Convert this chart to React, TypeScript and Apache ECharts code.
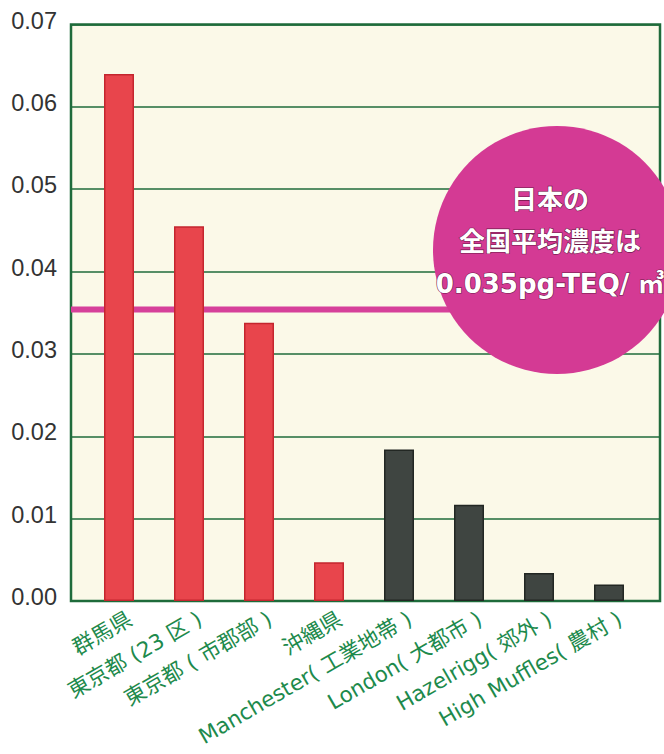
import React, { useEffect, useRef } from "react";
import * as echarts from "echarts";

const categories = [
  "群馬県",
  "東京都 (23 区 )",
  "東京都 ( 市郡部 )",
  "沖縄県",
  "Manchester( 工業地帯 )",
  "London( 大都市 )",
  "Hazelrigg( 郊外 )",
  "High Muffles( 農村 )",
];
const values = [0.064, 0.0455, 0.0338, 0.0047, 0.0184, 0.0117, 0.0034, 0.002];
const groups = ["japan", "japan", "japan", "japan", "uk", "uk", "uk", "uk"];
const yMin = 0;
const yMax = 0.07;
const yInterval = 0.01;
const nationalAverage = 0.0354;
const calloutLines = ["日本の", "全国平均濃度は", "0.035pg-TEQ/ ㎥"];

const groupColors: Record<string, { fill: string; border: string }> = {
  japan: { fill: "#E8454C", border: "#C4262E" },
  uk: { fill: "#3F4541", border: "#222723" },
};

const GREEN = "#1F6B3B";

export default function App() {
  const ref = useRef<HTMLDivElement>(null);
  useEffect(() => {
    if (!ref.current) return;
    const chart = echarts.init(ref.current, null, { renderer: "svg" });
    const outer = { left: 71, right: 4, top: 24.5, bottom: 153 };
    const inner = { left: 84, right: 20, top: 24.5, bottom: 153 };
    const labelGrid = { left: 95, right: 9, top: 24.5, bottom: 153 };
    chart.setOption({
      animation: false,
      backgroundColor: "#ffffff",
      grid: [
        {
          ...outer,
          show: true,
          backgroundColor: "#FBF9E8",
          borderColor: GREEN,
          borderWidth: 2.5,
        },
        { ...inner },
        { ...labelGrid },
      ],
      xAxis: [
        { type: "value", gridIndex: 0, min: 0, max: 1, show: false },
        {
          type: "category",
          gridIndex: 1,
          data: categories,
          axisLine: { show: false },
          axisTick: { show: false },
          axisLabel: { show: false },
        },
        {
          type: "category",
          gridIndex: 2,
          data: categories,
          axisLine: { show: false },
          axisTick: { show: false },
          axisLabel: {
            show: true,
            interval: 0,
            rotate: 30,
            margin: 16,
            color: "#1D8A4C",
            fontSize: 21.5,
            fontFamily: "DejaVu Sans, Noto Sans CJK JP, sans-serif",
          },
        },
      ],
      yAxis: [
        {
          type: "value",
          gridIndex: 0,
          min: yMin,
          max: yMax,
          interval: yInterval,
          axisLine: { show: false },
          axisTick: { show: false },
          axisLabel: {
            margin: 14,
            formatter: (v: number) => `{v|${v.toFixed(2)}}`,
            rich: {
              v: {
                color: "#333333",
                fontSize: 23.5,
                fontFamily: "Liberation Sans, Arial, sans-serif",
                padding: [0, 0, 8, 0],
              },
            },
          },
          splitLine: { show: true, lineStyle: { color: GREEN, width: 1.5 } },
        },
        { type: "value", gridIndex: 1, min: yMin, max: yMax, interval: yInterval, show: false },
        { type: "value", gridIndex: 2, min: yMin, max: yMax, interval: yInterval, show: false },
      ],
      series: [
        {
          type: "line",
          xAxisIndex: 0,
          yAxisIndex: 0,
          z: 1,
          silent: true,
          showSymbol: false,
          symbol: "none",
          lineStyle: { color: "#D6419A", width: 6 },
          data: [
            [0, nationalAverage],
            [1, nationalAverage],
          ],
        },
        {
          type: "bar",
          xAxisIndex: 1,
          yAxisIndex: 1,
          barWidth: 30,
          z: 3,
          data: values.map((v, i) => ({
            value: v,
            itemStyle: {
              color: groupColors[groups[i]].fill,
              borderColor: groupColors[groups[i]].border,
              borderWidth: 1.5,
            },
          })),
        },
      ],
      graphic: [
        {
          type: "circle",
          z: 100,
          shape: { cx: 557, cy: 250, r: 124 },
          style: { fill: "#D43A94" },
        },
        {
          type: "text",
          z: 101,
          x: 550,
          y: 242,
          style: {
            text: calloutLines.join("\n"),
            fill: "#ffffff",
            fontSize: 26,
            fontWeight: "bold",
            fontFamily: "DejaVu Sans, Noto Sans CJK JP, sans-serif",
            lineHeight: 42,
            align: "center",
            verticalAlign: "middle",
            stroke: "#6E1A4A",
            lineWidth: 1.2,
          },
        },
      ],
    });
    return () => chart.dispose();
  }, []);
  return (
    <div
      ref={ref}
      style={{ position: "fixed", left: 0, top: 0, width: 664, height: 754, background: "#fff" }}
    />
  );
}
